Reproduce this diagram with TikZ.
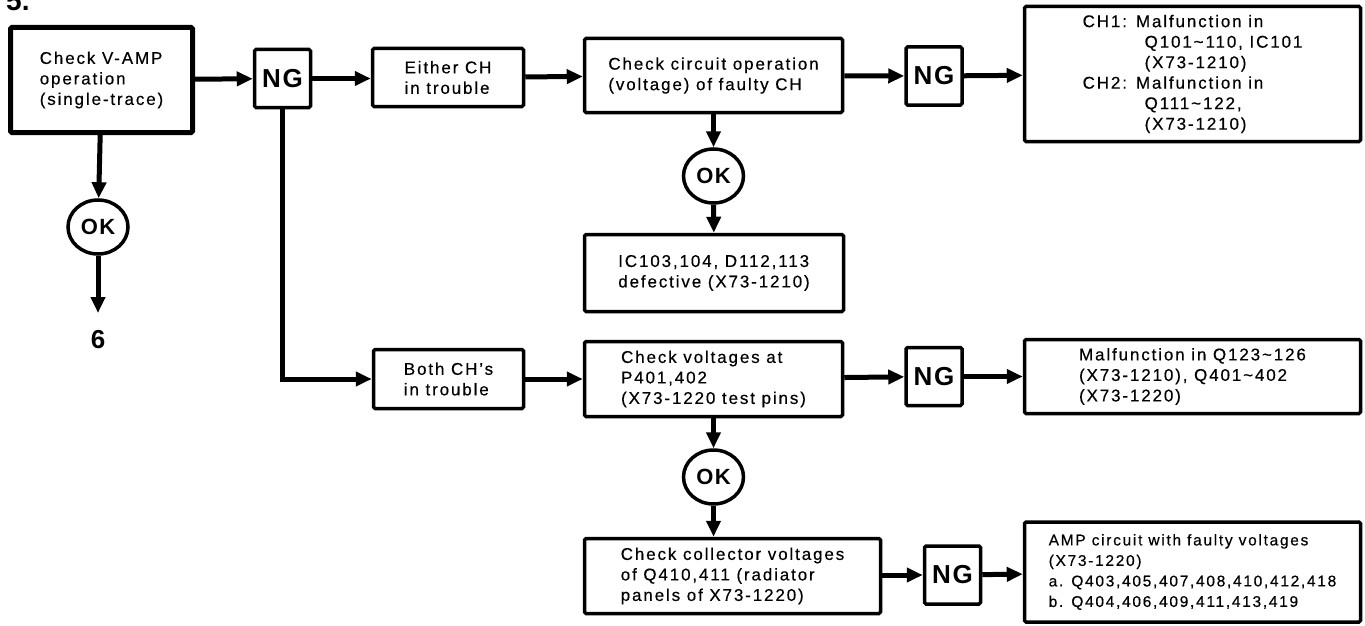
\documentclass[tikz,border=0pt]{standalone}
\usepackage{fontspec}
\setmainfont{Liberation Sans}[LetterSpace=11, FakeBold=0.4]
\newfontfamily\tagfont{Liberation Sans}
\newfontfamily\ngfont{Liberation Sans}[LetterSpace=6]
\usetikzlibrary{arrows.meta,shapes.geometric}

\begin{document}
\begin{tikzpicture}[x=1pt,y=-1pt,
  box/.style={draw, line width=3.5pt, rounded corners=1.5pt, inner sep=0pt,
    align=left, font=\fontsize{17}{20.5}\selectfont},
  smallbox/.style={box, font=\fontsize{15.5}{20.5}\selectfont},
  ngbox/.style={draw, line width=3.5pt, rounded corners=1.5pt, inner sep=0pt,
    minimum width=56, minimum height=58, font=\ngfont\bfseries\fontsize{26}{26}\selectfont},
  okcirc/.style={draw, ellipse, line width=3.5pt, inner sep=0pt,
    minimum width=60, minimum height=54, font=\ngfont\bfseries\fontsize{22}{22}\selectfont},
  conn/.style={line width=5pt, -{Triangle[length=16pt,width=14pt]}}]

\useasboundingbox (0,0) rectangle (1365,626);

% section number, cut by the top edge of the sheet
\node[font=\tagfont\bfseries\fontsize{28}{28}\selectfont, anchor=base west, inner sep=0pt]
  (sec) at (6,11) {5.};

% first stage
\node[box, line width=5pt, minimum width=182, minimum height=105] (vamp) at (101.5,80)
  {Check V-AMP\\operation\\(single-trace)};
\node[okcirc] (ok1) at (98,227) {OK};
\coordinate (end6) at (98,313);
\node[font=\tagfont\bfseries\fontsize{26}{26}\selectfont, inner sep=0pt] (six) at (98,340) {6};
\node[ngbox] (ng1) at (282.5,78.5) {NG};

% upper branch: one channel in trouble
\node[box, minimum width=151, minimum height=58] (either) at (448,77.5) {Either CH\\in trouble};
\node[box, minimum width=258, minimum height=74] (chk1) at (713.5,75.5)
  {Check circuit operation\\(voltage) of faulty CH};
\node[ngbox] (ng2) at (934,76) {NG};
\node[box, minimum width=336, minimum height=135] (res1) at (1192.5,74)
  {CH1:\hspace{9pt}Malfunction in\\
   \hspace*{62pt}Q101\textasciitilde110, IC101\\
   \hspace*{62pt}(X73-1210)\\
   CH2:\hspace{9pt}Malfunction in\\
   \hspace*{62pt}Q111\textasciitilde122,\\
   \hspace*{62pt}(X73-1210)};
\node[okcirc] (ok2) at (713.5,176) {OK};
\node[box, minimum width=259, minimum height=77] (ic) at (714,273)
  {IC103,104, D112,113\\defective (X73-1210)};

% lower branch: both channels in trouble
\node[box, minimum width=150, minimum height=59] (both) at (448.5,379) {Both CH’s\\in trouble};
\node[box, minimum width=258, minimum height=75] (chk2) at (713.5,379)
  {Check voltages at\\P401,402\\(X73-1220 test pins)};
\node[ngbox] (ng3) at (934,376.5) {NG};
\node[box, minimum width=336, minimum height=74] (res2) at (1192.5,376.5)
  {Malfunction in Q123\textasciitilde126\\(X73-1210), Q401\textasciitilde402\\(X73-1220)};
\node[okcirc] (ok3) at (713.5,477) {OK};
\node[box, minimum width=296, minimum height=75] (coll) at (732.5,576)
  {Check collector voltages\\of Q410,411 (radiator\\panels of X73-1220)};
\node[ngbox] (ng4) at (952.5,575) {NG};
\node[smallbox, minimum width=336, minimum height=100] (res3) at (1192.5,572)
  {AMP circuit with faulty voltages\\(X73-1220)\\a. Q403,405,407,408,410,412,418\\b. Q404,406,409,411,413,419};

% connectors
\draw[conn] (vamp) -- (ng1);
\draw[conn] (vamp) -- (ok1);
\draw[conn] (ok1) -- (end6);
\draw[conn] (ng1.east) -- (either.west |- ng1.east);
\draw[conn] (either) -- (chk1);
\draw[conn] (chk1) -- (ng2);
\draw[conn] (ng2) -- (res1);
\draw[conn] (chk1) -- (ok2);
\draw[conn] (ok2) -- (ic);
\draw[conn] (ng1.south) |- (both.west);
\draw[conn] (both) -- (chk2);
\draw[conn] (chk2) -- (ng3);
\draw[conn] (ng3) -- (res2);
\draw[conn] (chk2) -- (ok3);
\draw[conn] (ok3.south) -- (ok3.south |- coll.north);
\draw[conn] (coll.east |- ng4.west) -- (ng4.west);
\draw[conn] (ng4) -- (res3);
\end{tikzpicture}
\end{document}
